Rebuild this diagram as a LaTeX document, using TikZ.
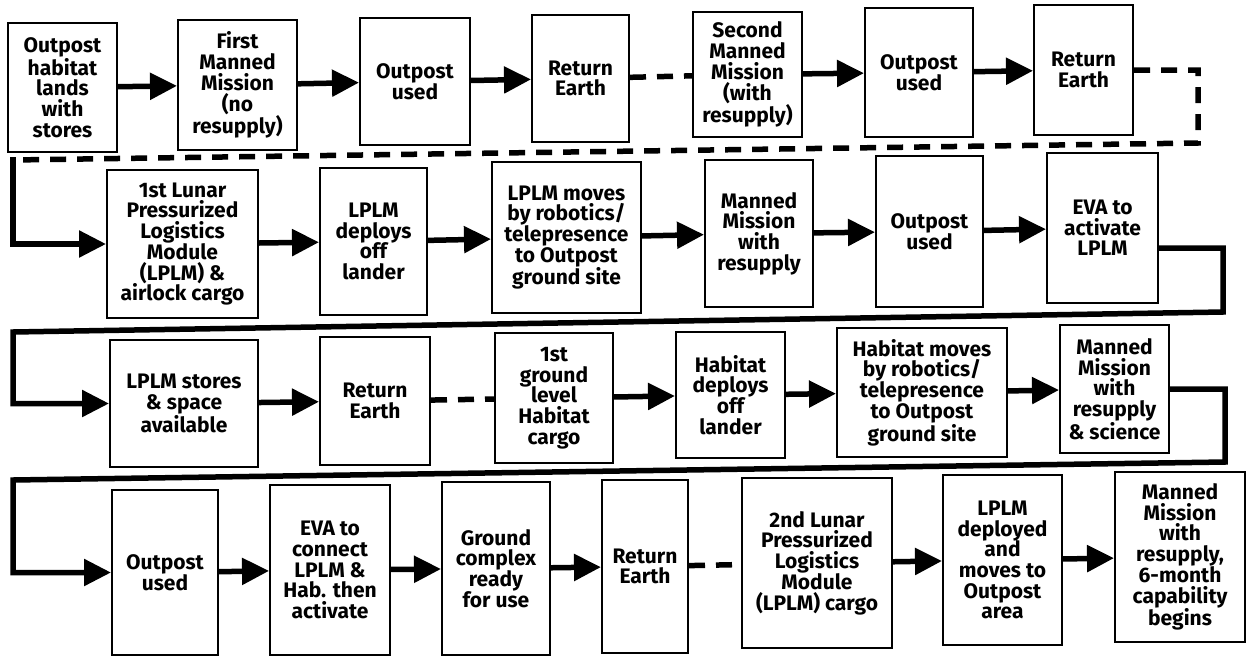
\documentclass[tikz,border=0pt]{standalone}
\usepackage{fontspec}
\setmainfont{Fira Sans}
\usepackage{tikz}
\usetikzlibrary{%
  arrows.meta,
  positioning}
\tikzset{
  %% Process boxes
  taskbox/.style={
    rectangle, draw=black, line width=2pt, fill=white,
    align=center, inner sep=0pt,
    font=\fontsize{21}{20.7}\selectfont\bfseries},
  %% Box size (width, height)
  dims/.style 2 args={minimum width=#1pt, minimum height=#2pt},
  %% Arrows
  arrow/.style={-{Triangle[length=27pt,width=26pt]}, line width=5.5pt, black},
  darrow/.style={line width=5.5pt, black, dash pattern=on 16pt off 11pt},
}
\begin{document}
\begin{tikzpicture}[x=1pt,y=-1pt]
  \useasboundingbox (0,0) rectangle (1247,659);

  %% Row 1
  \node[taskbox, dims={109}{129}] (a1) at (62.5,87.5)
        {Outpost\\habitat\\lands\\with\\stores};
  \node[taskbox, dims={119}{130}] (a2) at (237.5,85)
        {First\\Manned\\Mission\\(no\\resupply)};
  \node[taskbox, dims={110}{127}] (a3) at (415,81.5) {Outpost\\used};
  \node[taskbox, dims={97}{127}]  (a4) at (580.5,78.5) {Return\\Earth};
  \node[taskbox, dims={109}{125}] (a5) at (747.5,74.5)
        {Second\\Manned\\Mission\\(with\\resupply)};
  \node[taskbox, dims={108}{129}] (a6) at (919,72.5) {Outpost\\used};
  \node[taskbox, dims={99}{130}]  (a7) at (1083.5,70) {Return\\Earth};

  \draw[arrow]  (a1) -- (a2);
  \draw[arrow]  (a2) -- (a3);
  \draw[arrow]  (a3) -- (a4);
  \draw[darrow] (a4) -- (a5);
  \draw[arrow]  (a5) -- (a6);
  \draw[arrow]  (a6) -- (a7);

  %% Row 2
  \node[taskbox, dims={151}{148}] (b1) at (182.5,244)
        {1st Lunar\\Pressurized\\Logistics\\Module\\(LPLM) \&\\airlock cargo};
  \node[taskbox, dims={107}{147}] (b2) at (373.5,241.5)
        {LPLM\\deploys\\off\\lander};
  \node[taskbox, dims={149}{151}] (b3) at (566.5,237.5)
        {LPLM moves\\by robotics/\\telepresence\\to Outpost\\ground site};
  \node[taskbox, dims={108}{147}] (b4) at (759,233.5)
        {Manned\\Mission\\with\\resupply};
  \node[taskbox, dims={107}{151}] (b5) at (929.5,231.5) {Outpost\\used};
  \node[taskbox, dims={111}{150}] (b6) at (1102.5,228)
        {EVA to\\activate\\LPLM};

  %% Turn from row 1 to row 2
  \coordinate (r1) at (1198,143);
  \coordinate (l1) at (13,160);
  \draw[darrow] (a7.east) -| (r1) -- (l1);
  \draw[arrow]  ([yshift=2.75pt]l1) |- (b1.west);

  \draw[arrow] (b1) -- (b2);
  \draw[arrow] (b2) -- (b3);
  \draw[arrow] (b3) -- (b4);
  \draw[arrow] (b4) -- (b5);
  \draw[arrow] (b5) -- (b6);

  %% Row 3
  \node[taskbox, dims={148}{127}] (c1) at (184,403.5)
        {LPLM stores\\\& space\\available};
  \node[taskbox, dims={110}{128}] (c2) at (375,401) {Return\\Earth};
  \node[taskbox, dims={118}{130}] (c3) at (554,398)
        {1st\\ground\\level\\Habitat\\cargo};
  \node[taskbox, dims={109}{126}] (c4) at (730.5,395)
        {Habitat\\deploys\\off\\lander};
  \node[taskbox, dims={170}{129}] (c5) at (922,392.5)
        {Habitat moves\\by robotics/\\telepresence\\to Outpost\\ground site};
  \node[taskbox, dims={109}{128}] (c6) at (1114.5,389)
        {Manned\\Mission\\with\\resupply\\\& science};

  %% Turn from row 2 to row 3
  \coordinate (r2) at (1223,312);
  \coordinate (l2) at (13,332);
  \draw[arrow] ([yshift=-20pt]b6.east) -| (r2) -- (l2) |- (c1.west);

  \draw[arrow]  (c1) -- (c2);
  \draw[darrow] (c2) -- (c3);
  \draw[arrow]  (c3) -- (c4);
  \draw[arrow]  (c4) -- (c5);
  \draw[arrow]  (c5) -- (c6);

  %% Row 4
  \node[taskbox, dims={106}{165}] (d1) at (165,572.5) {Outpost\\used};
  \node[taskbox, dims={120}{170}] (d2) at (330,570)
        {EVA to\\connect\\LPLM \&\\Hab. then\\activate};
  \node[taskbox, dims={108}{173}] (d3) at (496,568.5)
        {Ground\\complex\\ready\\for use};
  \node[taskbox, dims={86}{173}]  (d4) at (645,566.5) {Return\\Earth};
  \node[taskbox, dims={150}{170}] (d5) at (817,563)
        {2nd Lunar\\Pressurized\\Logistics\\Module\\(LPLM) cargo};
  \node[taskbox, dims={119}{170}] (d6) at (1002.5,560)
        {LPLM\\deployed\\and\\moves to\\Outpost\\area};
  \node[taskbox, dims={130}{170}] (d7) at (1180,557)
        {Manned\\Mission\\with\\resupply,\\6-month\\capability\\begins};

  %% Turn from row 3 to row 4
  \coordinate (r3) at (1225,462);
  \coordinate (l3) at (13,480);
  \draw[arrow] (c6.east) -| (r3) -- (l3) |- (d1.west);

  \draw[arrow]  (d1) -- (d2);
  \draw[arrow]  (d2) -- (d3);
  \draw[arrow]  (d3) -- (d4);
  \draw[darrow] (d4) -- (d5);
  \draw[arrow]  (d5) -- (d6);
  \draw[arrow]  (d6) -- (d7);

\end{tikzpicture}
\end{document}
